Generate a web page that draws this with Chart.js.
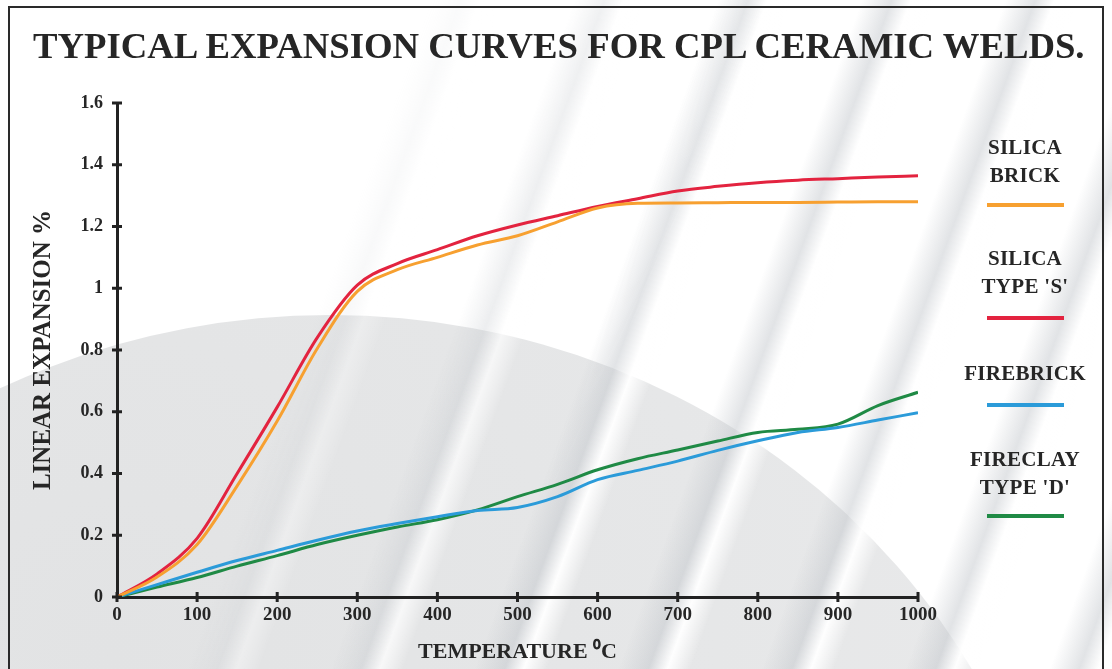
<!DOCTYPE html>
<html>
<head>
<meta charset="utf-8">
<script src="https://cdn.jsdelivr.net/npm/chart.js@4"></script>
<style>
  html, body { margin: 0; padding: 0; }
  body { width: 1112px; height: 669px; overflow: hidden; background: #fff; position: relative; font-family: "Liberation Serif", "DejaVu Serif", serif; }
  #dome { position: absolute; left: -403px; top: 315px; width: 1466px; height: 1370px; border-radius: 50%;
    background: radial-gradient(ellipse at 35% 25%, #e2e3e4 0%, #e6e7e8 45%, #ececed 100%); }
  #stripes { position: absolute; left: 0; top: 0; width: 1112px; height: 669px;
    background: repeating-linear-gradient(110deg, rgba(255,255,255,0) 0px, rgba(196,200,205,0.5) 28px, rgba(255,255,255,0.95) 46px, rgba(255,255,255,0) 68px, rgba(255,255,255,0) 135px);
    -webkit-mask-image: linear-gradient(115deg, transparent 28%, black 55%);
    mask-image: linear-gradient(115deg, transparent 28%, black 55%); }
  #frame { position: absolute; left: 8px; top: 6px; width: 1096px; height: 700px; border: 2px solid #2a2a2a; box-sizing: border-box; }
  #title { position: absolute; left: 33px; top: 28px; font-size: 36px; line-height: 36px; font-weight: bold; color: #262626; white-space: nowrap; transform-origin: left top; }
  #chartBox { position: absolute; left: 0; top: 0; width: 1112px; height: 669px; }
  .leg { position: absolute; left: 950px; width: 150px; text-align: center; font-size: 21px; font-weight: bold; color: #262626; line-height: 28px; letter-spacing: 0.3px; }
  .swatch { position: absolute; left: 987px; width: 77px; height: 4px; }
</style>
</head>
<body>
<div id="dome"></div>
<div id="stripes"></div>
<div id="frame"></div>
<div id="title">TYPICAL EXPANSION CURVES FOR CPL CERAMIC WELDS.</div>
<div id="chartBox"><canvas id="expChart" width="1112" height="669"></canvas></div>
<div id="legend"></div>
<script>
// temperatures in degrees C, readings every 50 degrees
const temps = [0, 50, 100, 150, 200, 250, 300, 350, 400, 450, 500, 550, 600, 650, 700, 750, 800, 850, 900, 950, 1000];

const silicaBrick = [0, 0.065, 0.17, 0.36, 0.57, 0.805, 0.99, 1.06, 1.10, 1.14, 1.17, 1.215, 1.26, 1.275, 1.276, 1.277, 1.278, 1.278, 1.279, 1.28, 1.28];
const silicaTypeS = [0, 0.075, 0.19, 0.40, 0.615, 0.84, 1.01, 1.08, 1.125, 1.17, 1.205, 1.235, 1.265, 1.29, 1.315, 1.33, 1.342, 1.35, 1.355, 1.36, 1.364];
const firebrick = [0, 0.04, 0.08, 0.118, 0.151, 0.184, 0.214, 0.238, 0.26, 0.28, 0.29, 0.325, 0.38, 0.41, 0.44, 0.475, 0.506, 0.533, 0.549, 0.573, 0.597];
const fireclayTypeD = [0, 0.032, 0.063, 0.10, 0.134, 0.17, 0.20, 0.227, 0.25, 0.282, 0.325, 0.365, 0.412, 0.448, 0.476, 0.505, 0.533, 0.543, 0.56, 0.62, 0.663];

const xTicks = [0, 100, 200, 300, 400, 500, 600, 700, 800, 900, 1000];
const yTicks = [0, 0.2, 0.4, 0.6, 0.8, 1, 1.2, 1.4, 1.6];

const seriesNames = [["SILICA", "BRICK"], ["SILICA", "TYPE 'S'"], ["FIREBRICK"], ["FIRECLAY", "TYPE 'D'"]];
const seriesColors = ['#f7a030', '#e3233f', '#2b9bd9', '#1f8a45'];

function points(values) {
  return temps.map((t, i) => ({ x: t, y: values[i] }));
}

// stretch the heading to the width it has in the print
const titleEl = document.getElementById('title');
titleEl.style.transform = 'scaleX(' + (1052 / titleEl.offsetWidth) + ')';

// short ticks crossing the axis lines on both sides
const crossTicks = {
  id: 'crossTicks',
  afterDraw(chart) {
    const ctx = chart.ctx;
    const xs = chart.scales.x, ys = chart.scales.y;
    ctx.save();
    ctx.strokeStyle = '#222';
    ctx.lineWidth = 3;
    xTicks.forEach(v => {
      const px = xs.getPixelForValue(v);
      ctx.beginPath(); ctx.moveTo(px, xs.top - 5); ctx.lineTo(px, xs.top + 5); ctx.stroke();
    });
    yTicks.forEach(v => {
      const py = ys.getPixelForValue(v);
      ctx.beginPath(); ctx.moveTo(ys.right - 5, py); ctx.lineTo(ys.right + 5, py); ctx.stroke();
    });
    ctx.restore();
  }
};

const ctxLine = document.getElementById('expChart').getContext('2d');
const expChart = new Chart(ctxLine, {
  type: 'line',
  data: {
    datasets: [silicaBrick, silicaTypeS, firebrick, fireclayTypeD].map((vals, i) => ({
      label: seriesNames[i].join(' '),
      data: points(vals),
      borderColor: seriesColors[i],
      borderWidth: 3,
      pointRadius: 0,
      fill: false,
      cubicInterpolationMode: 'monotone'
    }))
  },
  options: {
    responsive: false,
    animation: false,
    layout: { padding: { left: 0, right: 194, top: 103, bottom: 0 } },
    plugins: {
      legend: { display: false },
      tooltip: { enabled: false }
    },
    scales: {
      x: {
        type: 'linear',
        min: 0,
        max: 1000,
        afterFit: s => { s.height = 72; },
        afterBuildTicks: s => { s.ticks = xTicks.map(v => ({ value: v })); },
        grid: { display: false, drawTicks: false },
        border: { color: '#222', width: 3 },
        ticks: {
          color: '#262626',
          padding: 7,
          maxRotation: 0,
          font: { family: 'Liberation Serif', size: 19, weight: 'bold' },
          callback: v => String(v)
        },
        title: {
          display: true,
          text: 'TEMPERATURE ⁰C',
          color: '#262626',
          padding: { top: 4, bottom: 3 },
          font: { family: 'Liberation Serif', size: 22, weight: 'bold' }
        }
      },
      y: {
        min: 0,
        max: 1.6,
        afterFit: s => { s.width = 117; },
        afterBuildTicks: s => { s.ticks = yTicks.map(v => ({ value: v })); },
        grid: { display: false, drawTicks: false },
        border: { color: '#222', width: 3 },
        ticks: {
          color: '#262626',
          padding: 14,
          font: { family: 'Liberation Serif', size: 18, weight: 'bold' },
          callback: v => String(Math.round(v * 10) / 10)
        },
        title: {
          display: true,
          text: 'LINEAR EXPANSION %',
          color: '#262626',
          padding: { top: 29, bottom: 0 },
          font: { family: 'Liberation Serif', size: 25, weight: 'bold' }
        }
      }
    }
  },
  plugins: [crossTicks]
});

// legend: names stacked above a short coloured bar
const legendTops = [133, 244, 359, 445];
const swatchTops = [203, 316, 403, 514];
const legendBox = document.getElementById('legend');
seriesNames.forEach((lines, i) => {
  const t = document.createElement('div');
  t.className = 'leg';
  t.style.top = legendTops[i] + 'px';
  t.innerHTML = lines.join('<br>');
  legendBox.appendChild(t);
  const s = document.createElement('div');
  s.className = 'swatch';
  s.style.top = swatchTops[i] + 'px';
  s.style.background = seriesColors[i];
  legendBox.appendChild(s);
});
</script>
</body>
</html>
